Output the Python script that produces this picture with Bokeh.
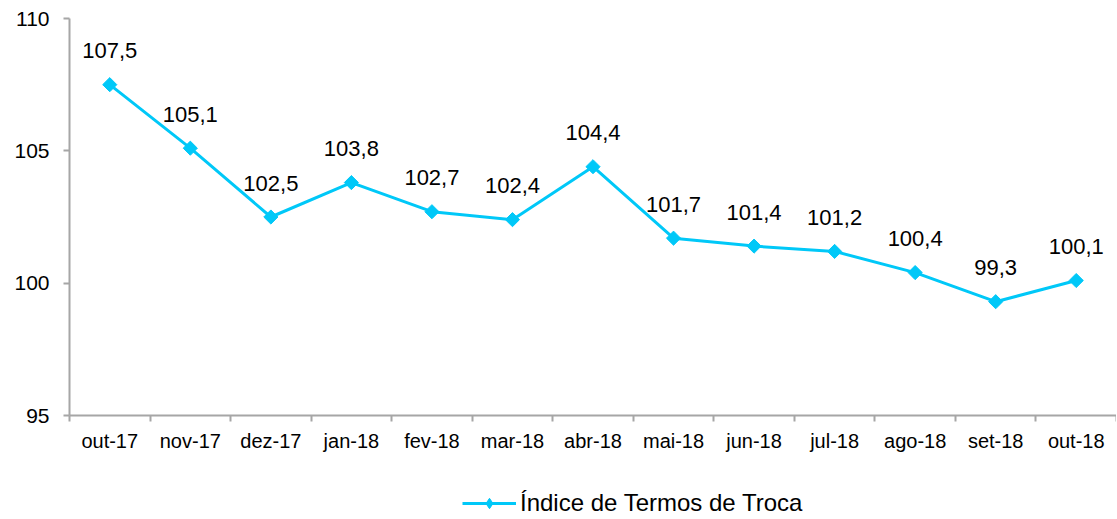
import math
from bokeh.plotting import figure
from bokeh.layouts import column
from bokeh.models import ColumnDataSource, FixedTicker, Range1d, Legend, LegendItem
from bokeh.core.properties import value
from bokeh.embed import file_html
from bokeh.resources import INLINE

months = ["out-17", "nov-17", "dez-17", "jan-18", "fev-18", "mar-18", "abr-18",
          "mai-18", "jun-18", "jul-18", "ago-18", "set-18", "out-18"]
values = [107.5, 105.1, 102.5, 103.8, 102.7, 102.4, 104.4,
          101.7, 101.4, 101.2, 100.4, 99.3, 100.1]
y_ticks = [95, 100, 105, 110]
series_name = "Índice de Termos de Troca"

FONT = "Liberation Sans"
COLOR = "#00C8F8"
AXIS = "#A6A6A6"

xs = [i + 0.5 for i in range(len(months))]
labels = [f"{v:.1f}".replace(".", ",") for v in values]
src = ColumnDataSource(dict(x=xs, y=values, lab=labels))

W = 1116
p = figure(width=W, height=489, output_backend="svg", toolbar_location=None,
           x_range=Range1d(0, len(months)), y_range=Range1d(95, 110),
           min_border_left=69, min_border_right=0, min_border_top=18,
           min_border_bottom=74)
p.outline_line_color = None
p.grid.visible = False

p.line("x", "y", source=src, line_color=COLOR, line_width=3)
p.scatter("x", "y", source=src, marker="square", size=10, angle=math.pi / 4,
          fill_color=COLOR, line_color=COLOR)
p.text("x", "y", text="lab", source=src, text_align="center", text_baseline="middle",
       y_offset=-34, text_font=value(FONT), text_font_size="22px", text_color="black")

xa = p.xaxis[0]
xa.ticker = FixedTicker(ticks=xs, minor_ticks=list(range(len(months) + 1)))
xa.major_label_overrides = {x: m for x, m in zip(xs, months)}
xa.major_tick_out = 0
xa.major_tick_in = 0
xa.minor_tick_out = 6
xa.minor_tick_in = 0
xa.minor_tick_line_color = AXIS
xa.minor_tick_line_width = 2
xa.axis_line_color = AXIS
xa.axis_line_width = 2
xa.major_label_text_font = FONT
xa.major_label_text_font_size = "20px"
xa.major_label_text_color = "black"
xa.major_label_standoff = 8

ya = p.yaxis[0]
ya.ticker = FixedTicker(ticks=y_ticks, minor_ticks=[])
ya.major_tick_out = 6
ya.major_tick_in = 0
ya.major_tick_line_color = AXIS
ya.major_tick_line_width = 2
ya.axis_line_color = AXIS
ya.axis_line_width = 2
ya.major_label_text_font = FONT
ya.major_label_text_font_size = "21px"
ya.major_label_text_color = "black"
ya.major_label_standoff = 14

# legend panel below the chart
lg = figure(width=W, height=30, output_backend="svg", toolbar_location=None,
            x_range=Range1d(0, 1), y_range=Range1d(0, 1),
            min_border=0)
lg.axis.visible = False
lg.grid.visible = False
lg.outline_line_color = None
hidden = ColumnDataSource(dict(x=[-10, -9], y=[-10, -10]))
l_line = lg.line("x", "y", source=hidden, line_color=COLOR, line_width=3)
l_pts = lg.scatter("x", "y", source=hidden, marker="diamond", size=16,
                   fill_color=COLOR, line_color=COLOR)
legend = Legend(items=[LegendItem(label=series_name, renderers=[l_line, l_pts])],
                orientation="horizontal", location=(393, 2),
                label_text_font=FONT, label_text_font_size="24px",
                label_text_color="black", label_height=26,
                glyph_width=54, glyph_height=26, label_standoff=4,
                border_line_color=None, background_fill_alpha=0,
                margin=0, padding=0)
lg.add_layout(legend)

layout = column(p, lg, spacing=0)
open("out.html", "w").write(file_html(layout, INLINE))
